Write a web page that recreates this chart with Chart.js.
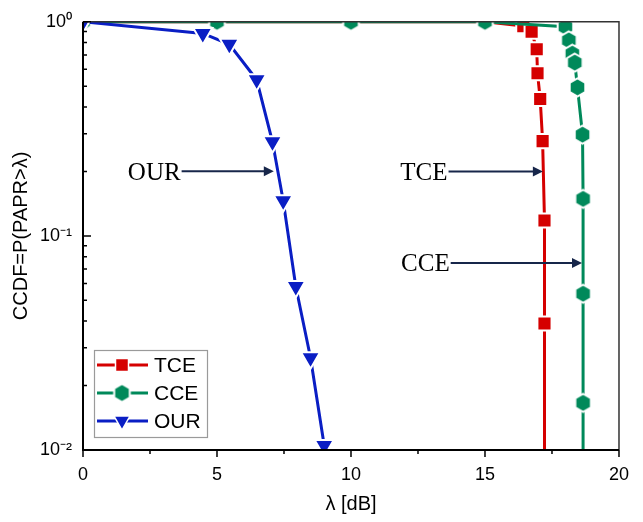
<!DOCTYPE html>
<html><head><meta charset="utf-8">
<script src="https://cdn.jsdelivr.net/npm/chart.js@4.4.0/dist/chart.umd.min.js"></script>
<style>html,body{margin:0;padding:0;background:#fff;}#wrap{width:643px;height:522px;position:relative;}</style>
</head><body><div id="wrap"><canvas id="c" width="643" height="522"></canvas></div>
<script>
// ---- data ----
const seriesNames = ['TCE', 'CCE', 'OUR'];
const tceX = [0, 5, 10, 15, 16.43, 16.74, 16.93, 16.96, 17.06, 17.15, 17.22, 17.22, 17.22];
const tceY = [1, 1, 1, 1, 0.955, 0.899, 0.744, 0.575, 0.436, 0.277, 0.118, 0.039, 0.003];
const cceX = [0, 5, 10, 15, 18.0, 18.13, 18.26, 18.35, 18.45, 18.64, 18.66, 18.66, 18.66, 18.66];
const cceY = [1, 1, 1, 1, 0.948, 0.819, 0.71, 0.645, 0.494, 0.297, 0.149, 0.0537, 0.0166, 0.003];
const ourX = [0, 4.47, 5.46, 6.48, 7.07, 7.47, 7.94, 8.49, 9.0];
const ourY = [1, 0.882, 0.785, 0.536, 0.275, 0.146, 0.058, 0.027, 0.0105];
const xTicks = [0, 5, 10, 15, 20];
const xMinorTicks = [2.5, 7.5, 12.5, 17.5];
const yTicks = [1, 0.1, 0.01];
const yTickLabels = ['10\u2070', '10\u207B\u00B9', '10\u207B\u00B2'];
const yMinorTicks = [0.9,0.8,0.7,0.6,0.5,0.4,0.3,0.2,0.09,0.08,0.07,0.06,0.05,0.04,0.03,0.02];
const annLabels = ['OUR', 'TCE', 'CCE'];
const annStartX = [3.68, 13.64, 13.72];
const annTipX = [7.12, 17.16, 18.62];
const annY = [0.2005, 0.2, 0.0748];

const RED = '#d50000', GREEN = '#00895a', BLUE = '#0a1ec4', NAVY = '#17264a';
const SANS = 'Liberation Sans, Arial, sans-serif';
const SERIF = 'Liberation Serif, Times New Roman, serif';

function makeHex(color, r) {
  const c = document.createElement('canvas');
  const s = Math.ceil(2 * r + 5);
  c.width = s; c.height = s;
  const g = c.getContext('2d');
  g.beginPath();
  for (let i = 0; i < 6; i++) {
    const a = Math.PI / 3 * i - Math.PI / 2;
    const px = s / 2 + r * Math.cos(a), py = s / 2 + r * Math.sin(a);
    if (i) g.lineTo(px, py); else g.moveTo(px, py);
  }
  g.closePath();
  g.fillStyle = color; g.fill();
  g.lineWidth = 2; g.strokeStyle = '#fff'; g.stroke();
  return c;
}
const hexImg = makeHex(GREEN, 9);

function pts(xs, ys) { return xs.map((x, i) => ({ x: x, y: ys[i] })); }

const overlay = {
  id: 'overlay',
  afterDatasetsDraw(chart) {
    const ctx = chart.ctx, a = chart.chartArea;
    const xs = chart.scales.x, ys = chart.scales.y;
    ctx.save();
    // frame
    ctx.strokeStyle = '#333'; ctx.lineWidth = 1.5;
    ctx.beginPath();
    ctx.moveTo(a.left, a.top); ctx.lineTo(a.right, a.top); ctx.lineTo(a.right, a.bottom);
    ctx.stroke();
    ctx.strokeStyle = '#000'; ctx.lineWidth = 2;
    ctx.beginPath();
    ctx.moveTo(a.left, a.top); ctx.lineTo(a.left, a.bottom); ctx.lineTo(a.right, a.bottom);
    ctx.stroke();
    // ticks
    ctx.lineWidth = 1.5;
    ctx.beginPath();
    xTicks.forEach(v => { const p = xs.getPixelForValue(v); ctx.moveTo(p, a.bottom); ctx.lineTo(p, a.bottom + 7); });
    xMinorTicks.forEach(v => { const p = xs.getPixelForValue(v); ctx.moveTo(p, a.bottom); ctx.lineTo(p, a.bottom + 4); });
    yTicks.forEach(v => { const p = ys.getPixelForValue(v); ctx.moveTo(a.left, p); ctx.lineTo(a.left + 8, p); });
    yMinorTicks.forEach(v => { const p = ys.getPixelForValue(v); ctx.moveTo(a.left, p); ctx.lineTo(a.left + 4, p); });
    ctx.stroke();
    // annotations
    annLabels.forEach((t, i) => {
      const x0 = xs.getPixelForValue(annStartX[i]);
      const x1 = xs.getPixelForValue(annTipX[i]);
      const y = ys.getPixelForValue(annY[i]);
      ctx.strokeStyle = NAVY; ctx.fillStyle = NAVY; ctx.lineWidth = 2;
      ctx.beginPath(); ctx.moveTo(x0, y); ctx.lineTo(x1 - 8, y); ctx.stroke();
      ctx.beginPath(); ctx.moveTo(x1, y); ctx.lineTo(x1 - 10, y - 5); ctx.lineTo(x1 - 10, y + 5); ctx.closePath(); ctx.fill();
      ctx.fillStyle = '#000';
      ctx.font = '25px ' + SERIF;
      ctx.textAlign = 'right'; ctx.textBaseline = 'alphabetic';
      ctx.fillText(t, x0 - 1, y + 8.5);
    });
    // legend
    const bx = a.left + 11, by = a.bottom - 100, bw = 113, bh = 87;
    ctx.fillStyle = '#fff'; ctx.fillRect(bx, by, bw, bh);
    ctx.strokeStyle = '#9a9a9a'; ctx.lineWidth = 1.2; ctx.strokeRect(bx + 0.5, by + 0.5, bw, bh);
    const colors = [RED, GREEN, BLUE];
    seriesNames.forEach((n, i) => {
      const yy = by + 15 + i * 28;
      const c = colors[i];
      ctx.strokeStyle = c; ctx.lineWidth = 3;
      ctx.beginPath(); ctx.moveTo(bx + 3, yy); ctx.lineTo(bx + 54, yy); ctx.stroke();
      const mx = bx + 28;
      ctx.fillStyle = c; ctx.strokeStyle = '#fff'; ctx.lineWidth = 1.5;
      if (i === 0) {
        ctx.beginPath(); ctx.rect(mx - 6.5, yy - 6.5, 13, 13); ctx.fill(); ctx.stroke();
      } else if (i === 1) {
        ctx.drawImage(hexImg, mx - hexImg.width / 2, yy - hexImg.height / 2);
      } else {
        ctx.beginPath(); ctx.moveTo(mx - 8, yy - 5); ctx.lineTo(mx + 8, yy - 5); ctx.lineTo(mx, yy + 9); ctx.closePath(); ctx.fill(); ctx.stroke();
      }
      ctx.fillStyle = '#000'; ctx.font = '21px ' + SANS;
      ctx.textAlign = 'left'; ctx.textBaseline = 'middle';
      ctx.fillText(n, bx + 60, yy + 1);
    });
    ctx.restore();
  }
};

new Chart(document.getElementById('c'), {
  type: 'line',
  data: {
    datasets: [
      { label: seriesNames[0], data: pts(tceX, tceY), borderColor: RED, backgroundColor: RED,
        borderWidth: 3, pointStyle: 'rect', pointRadius: 10, pointBackgroundColor: RED,
        pointBorderColor: '#fff', pointBorderWidth: 2, order: 3 },
      { label: seriesNames[1], data: pts(cceX, cceY), borderColor: GREEN, backgroundColor: GREEN,
        borderWidth: 3, pointStyle: hexImg, pointRadius: 9, order: 2 },
      { label: seriesNames[2], data: pts(ourX, ourY), borderColor: BLUE, backgroundColor: BLUE,
        borderWidth: 3, pointStyle: 'triangle', rotation: 180, pointRotation: 180, pointRadius: 11,
        pointBackgroundColor: BLUE, pointBorderColor: '#fff', pointBorderWidth: 2, order: 1 }
    ]
  },
  options: {
    responsive: false, animation: false, events: [],
    layout: { padding: { left: 0, top: 19, right: 22, bottom: 0 } },
    plugins: { legend: { display: false }, tooltip: { enabled: false } },
    scales: {
      x: {
        type: 'linear', min: 0, max: 20,
        afterBuildTicks: s => { s.ticks = xTicks.map(v => ({ value: v })); },
        ticks: { font: { family: SANS, size: 18 }, color: '#000', padding: 14, maxRotation: 0, autoSkip: false },
        grid: { display: false, drawTicks: false }, border: { display: false },
        title: { display: true, text: 'λ [dB]', font: { family: SANS, size: 20 }, color: '#000', padding: { top: 0, bottom: 6 } },
        afterFit: s => { s.height = 72; }
      },
      y: {
        type: 'logarithmic', min: 0.01, max: 1,
        afterBuildTicks: s => { s.ticks = yTicks.map(v => ({ value: v })); },
        ticks: { font: { family: SANS, size: 18 }, color: '#000', padding: 11, autoSkip: false,
          callback: (v) => { const i = yTicks.indexOf(v); return i >= 0 ? yTickLabels[i] : ''; } },
        grid: { display: false, drawTicks: false }, border: { display: false },
        title: { display: true, text: 'CCDF=P(PAPR>λ)', font: { family: SANS, size: 20 }, color: '#000', padding: { top: 9, bottom: 0 } },
        afterFit: s => { s.width = 83; }
      }
    }
  },
  plugins: [overlay]
});
</script></body></html>
